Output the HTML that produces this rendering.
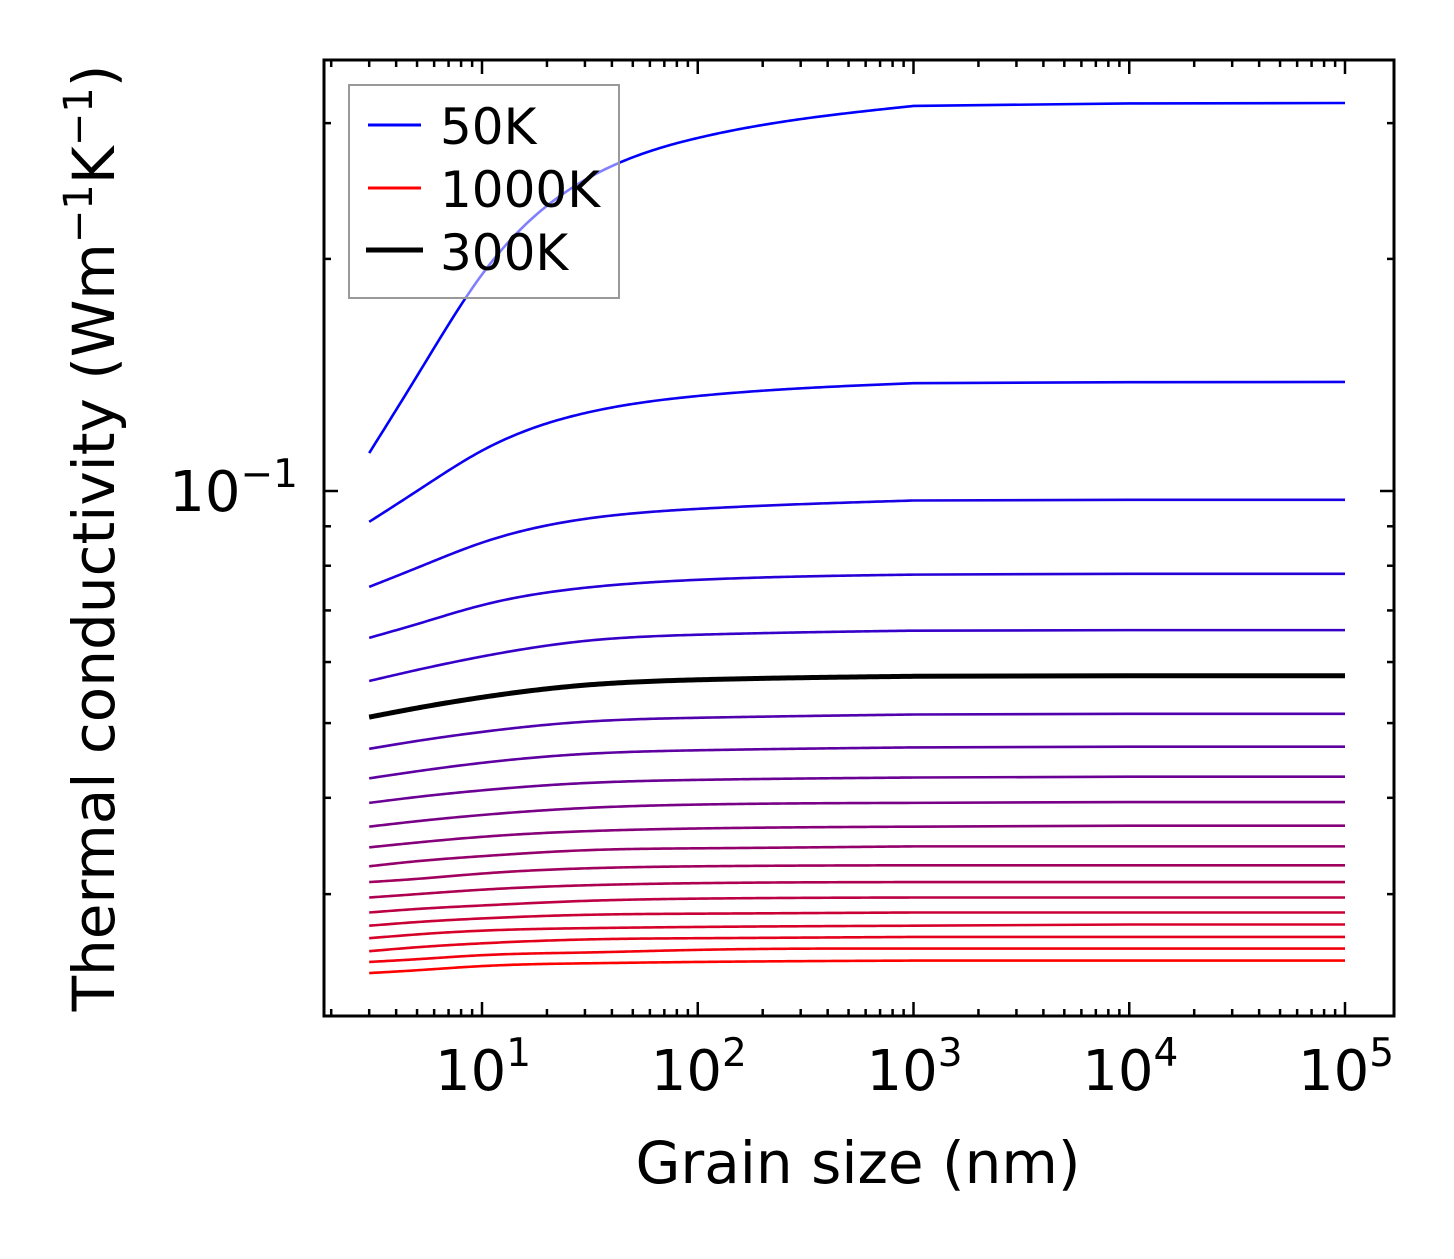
<!DOCTYPE html>
<html><head><meta charset="utf-8"><style>
html,body{margin:0;padding:0;background:#fff;}
svg text{font-family:"DejaVu Sans","Liberation Sans",sans-serif;fill:#000;}
</style></head><body>
<svg id="chart" width="1454" height="1254" viewBox="0 0 1454 1254" xmlns="http://www.w3.org/2000/svg">
<rect x="0" y="0" width="1454" height="1254" fill="#fff"/>
<g id="curves"></g>
<g id="legend">
  <rect x="349" y="85" width="270" height="213" fill="rgba(255,255,255,0.5)" stroke="#999" stroke-width="2"/>
  <line x1="368" y1="125" x2="421" y2="125" stroke="#0000ff" stroke-width="3"/>
  <text x="440" y="144" font-size="50">50K</text>
  <line x1="368" y1="188" x2="421" y2="188" stroke="#ff0000" stroke-width="3"/>
  <text x="440" y="207" font-size="50">1000K</text>
  <line x1="366" y1="250" x2="423" y2="250" stroke="#000" stroke-width="5"/>
  <text x="440" y="270" font-size="50">300K</text>
</g>
<g id="axes"></g>
<text x="858" y="1183" font-size="58" text-anchor="middle">Grain size (nm)</text>
<text transform="translate(114,538) rotate(-90)" font-size="58" text-anchor="middle">Thermal conductivity (Wm<tspan dy="-22" font-size="40">−1</tspan><tspan dy="22">K</tspan><tspan dy="-22" font-size="40">−1</tspan><tspan dy="22">)</tspan></text>
</svg>
<script>
const grainSizes = [3, 5, 10, 30, 100, 1000, 10000, 100000];
const temperatures = [50,100,150,200,250,300,350,400,450,500,550,600,650,700,750,800,850,900,950,1000];
const kappa50 = [0.1120,0.1410,0.1909,0.2532,0.2870,0.3158,0.3182,0.3186];
const kappa100 = [0.0912,0.1000,0.1128,0.1262,0.1328,0.1380,0.1384,0.1385];
const kappa150 = [0.0751,0.0795,0.0857,0.0920,0.0948,0.0972,0.0974,0.0974];
const kappa200 = [0.0645,0.0672,0.0711,0.0749,0.0767,0.0779,0.0781,0.0781];
const kappa250 = [0.0567,0.0586,0.0610,0.0639,0.0651,0.0659,0.0660,0.0660];
const kappa300 = [0.0509,0.0523,0.0540,0.0560,0.0569,0.0575,0.0576,0.0576];
const kappa350 = [0.0463,0.0474,0.0487,0.0502,0.0508,0.0513,0.0514,0.0514];
const kappa400 = [0.0424,0.0433,0.0444,0.0456,0.0461,0.0465,0.0466,0.0466];
const kappa450 = [0.0394,0.0401,0.0409,0.0418,0.0422,0.0425,0.0426,0.0426];
const kappa500 = [0.0367,0.0373,0.0380,0.0388,0.0392,0.0394,0.0395,0.0395];
const kappa550 = [0.0345,0.0350,0.0356,0.0362,0.0365,0.0367,0.0368,0.0368];
const kappa600 = [0.0326,0.0331,0.0336,0.0342,0.0344,0.0346,0.0346,0.0346];
const kappa650 = [0.0311,0.0314,0.0319,0.0324,0.0326,0.0327,0.0327,0.0327];
const kappa700 = [0.0297,0.0300,0.0304,0.0308,0.0310,0.0311,0.0311,0.0311];
const kappa750 = [0.0284,0.0287,0.0290,0.0294,0.0296,0.0297,0.0297,0.0297];
const kappa800 = [0.0273,0.0276,0.0279,0.0282,0.0283,0.0284,0.0284,0.0284];
const kappa850 = [0.0263,0.0266,0.0269,0.0271,0.0272,0.0273,0.0274,0.0274];
const kappa900 = [0.0253,0.0256,0.0259,0.0262,0.0263,0.0264,0.0264,0.0264];
const kappa950 = [0.0245,0.0247,0.0250,0.0252,0.0254,0.0255,0.0255,0.0255];
const kappa1000 = [0.0237,0.0239,0.0242,0.0244,0.0245,0.0246,0.0246,0.0246];
const xTickExps = [1,2,3,4,5];
const yMajorTicks = [0.1];
const yMinorTicks = [0.03,0.04,0.05,0.06,0.07,0.08,0.09,0.2,0.3];

const series = [kappa50,kappa100,kappa150,kappa200,kappa250,kappa300,kappa350,kappa400,kappa450,kappa500,kappa550,kappa600,kappa650,kappa700,kappa750,kappa800,kappa850,kappa900,kappa950,kappa1000];

const L=324,R=1394,T=60,B=1016;
const X0=482, XPD=215.75;
const Y0=491, YPD=771;
function xs(v){return X0+(Math.log10(v)-1)*XPD;}
function ys(v){return Y0-(Math.log10(v)+1)*YPD;}
const NS='http://www.w3.org/2000/svg';
function mk(tag,attrs,parent){const e=document.createElementNS(NS,tag);for(const k in attrs)e.setAttribute(k,attrs[k]);parent.appendChild(e);return e;}

// natural cubic spline through the rising part (L <= 1000), straight segments on the plateau
function pathD(vals){
  const allX=grainSizes.map(xs), allY=vals.map(ys);
  let n=grainSizes.filter(g=>g<=1000).length;
  const px=allX.slice(0,n), py=allY.slice(0,n), h=[];
  for(let i=0;i<n-1;i++) h.push(px[i+1]-px[i]);
  const a=new Array(n).fill(0), b=new Array(n).fill(1), c=new Array(n).fill(0), r=new Array(n).fill(0);
  for(let i=1;i<n-1;i++){
    a[i]=h[i-1]; b[i]=2*(h[i-1]+h[i]); c[i]=h[i];
    r[i]=6*((py[i+1]-py[i])/h[i]-(py[i]-py[i-1])/h[i-1]);
  }
  for(let i=1;i<n;i++){const w=a[i]/b[i-1]; b[i]-=w*c[i-1]; r[i]-=w*r[i-1];}
  const M=new Array(n).fill(0);
  M[n-1]=r[n-1]/b[n-1];
  for(let i=n-2;i>=0;i--) M[i]=(r[i]-c[i]*M[i+1])/b[i];
  let s='';
  for(let i=0;i<n-1;i++){
    const steps=Math.max(2,Math.ceil(h[i]/3));
    for(let k=(i===0?0:1);k<=steps;k++){
      const t=k/steps, x=px[i]+t*h[i];
      const A=1-t, Bt=t;
      const y=A*py[i]+Bt*py[i+1]+((A*A*A-A)*M[i]+(Bt*Bt*Bt-Bt)*M[i+1])*h[i]*h[i]/6;
      s+=(s===''?'M':' L')+x.toFixed(2)+','+y.toFixed(2);
    }
  }
  for(let i=n;i<allX.length;i++) s+=' L'+allX[i].toFixed(2)+','+allY[i].toFixed(2);
  return s;
}
const cg=document.getElementById('curves');
series.forEach((vals,i)=>{
  const f=i/(series.length-1);
  const col='rgb('+Math.round(255*f)+',0,'+Math.round(255*(1-f))+')';
  const p=mk('path',{d:pathD(vals),fill:'none',stroke:col,'stroke-width':2.6,'stroke-linejoin':'round'},cg);
  
  
});
const bp=mk('path',{d:pathD(kappa300),fill:'none',stroke:'#000','stroke-width':5,'stroke-linejoin':'round'},cg);



const ag=document.getElementById('axes');
function tick(x1,y1,x2,y2,name){const t=mk('line',{x1:x1,y1:y1,x2:x2,y2:y2,stroke:'#000','stroke-width':2.5},ag);

}
for(let e=0;e<=5;e++){
  for(let m=1;m<=9;m++){
    const v=m*Math.pow(10,e);
    const x=xs(v);
    if(x<L+1||x>R-1)continue;
    const len=(m===1)?14:7;
    tick(x,B,x,B-len,'x-tick');
    tick(x,T,x,T+len,'x-tick-top');
  }
}
xTickExps.forEach(e=>{
  const x=xs(Math.pow(10,e));
  const t=mk('text',{x:x+1,y:1090,'font-size':56,'text-anchor':'middle'},ag);
  
  
  t.innerHTML='10<tspan dy="-24" font-size="39">'+e+'</tspan>';
});
yMajorTicks.forEach(v=>{
  const y=ys(v);
  tick(L,y,L+14,y,'y-tick');tick(R,y,R-14,y,'y-tick-right');
  const t=mk('text',{x:298,y:y+20,'font-size':56,'text-anchor':'end'},ag);
  
  
  t.innerHTML='10<tspan dy="-24" font-size="39">−1</tspan>';
});
yMinorTicks.forEach(v=>{
  const y=ys(v);
  tick(L,y,L+7,y,'y-minor-tick');tick(R,y,R-7,y,'y-minor-tick-right');
});
const fr=mk('rect',{x:L,y:T,width:R-L,height:B-T,fill:'none',stroke:'#000','stroke-width':3},ag);


</script>
</body></html>
